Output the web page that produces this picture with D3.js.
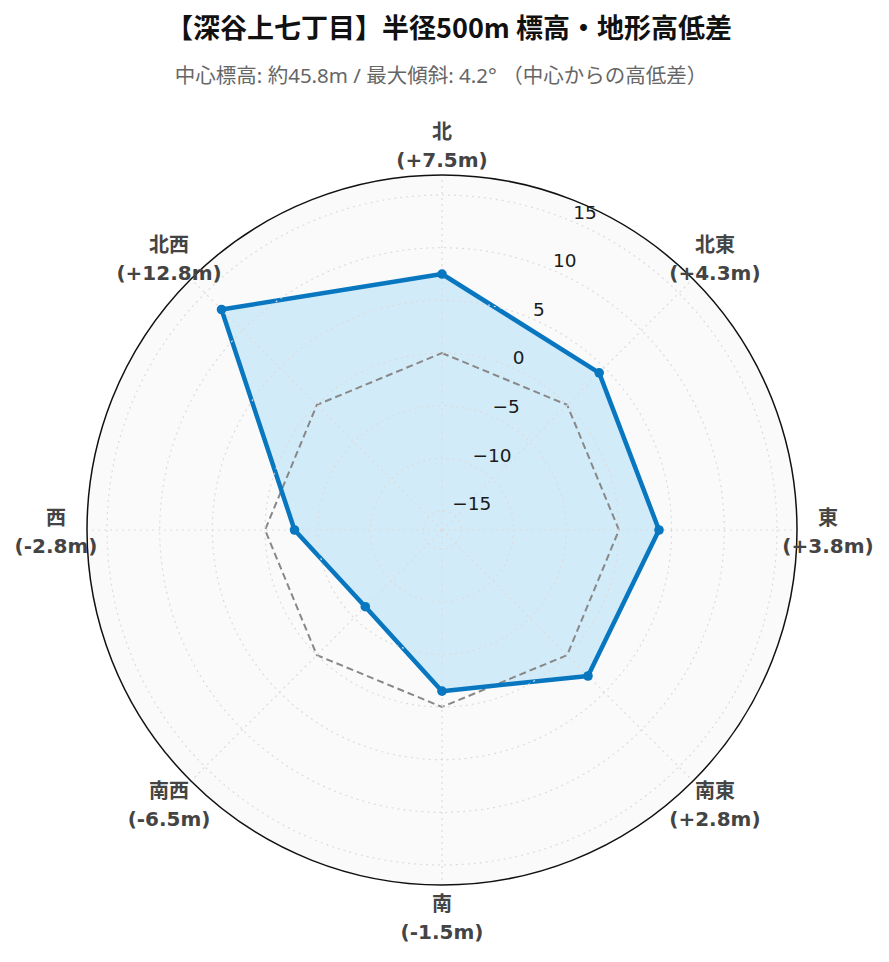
<!DOCTYPE html>
<html><head><meta charset="utf-8">
<script src="https://cdn.jsdelivr.net/npm/d3@7"></script>
<style>
body{margin:0;background:#fff;}
svg{display:block;}
</style></head>
<body>
<script>
const directions = ["北","北東","東","南東","南","南西","西","北西"];
const elevationDiff = [7.5, 4.3, 3.8, 2.8, -1.5, -6.5, -2.8, 12.8];
const baseline = [0, 0, 0, 0, 0, 0, 0, 0];
const radialTicks = [-15, -10, -5, 0, 5, 10, 15];
const radialRange = [-16.8, 16.9];
const titleText = "【深谷上七丁目】半径500m 標高・地形高低差";
const subtitleText = "中心標高: 約45.8m / 最大傾斜: 4.2° （中心からの高低差）";

const W = 889, H = 962;
const cx = 442, cy = 530, R = 355;
const svg = d3.select("body").append("svg").attr("width", W).attr("height", H);

const rScale = d3.scaleLinear().domain(radialRange).range([0, R]);
const aScale = d3.scalePoint().domain(directions).range([0, 360 - 45]);
const rad = d => d * Math.PI / 180;
const px = (a, r) => cx + r * Math.sin(rad(a));
const py = (a, r) => cy - r * Math.cos(rad(a));

// title
svg.append("text").attr("x", 449).attr("y", 38).attr("text-anchor", "middle")
  .attr("font-family", "'Noto Sans CJK JP', sans-serif").attr("font-weight", "bold")
  .attr("font-size", 27).attr("fill", "#111").text(titleText);
svg.append("text").attr("x", 441).attr("y", 83).attr("text-anchor", "middle")
  .attr("font-family", "'Noto Sans', 'Noto Sans CJK JP', sans-serif")
  .attr("font-size", 20.5).attr("fill", "#666").text(subtitleText);

// background
svg.append("circle").attr("cx", cx).attr("cy", cy).attr("r", R).attr("fill", "#fafafa");

// fill
const radial = d3.lineRadial().angle((d, i) => rad(aScale(directions[i]))).radius(d => rScale(d)).curve(d3.curveLinearClosed);
const g = svg.append("g").attr("transform", `translate(${cx},${cy})`);
g.append("path").attr("d", radial(elevationDiff)).attr("fill", "rgba(135,206,245,0.35)").attr("stroke", "none");

// grid
const gridG = svg.append("g");
radialTicks.forEach(t => {
  gridG.append("circle").attr("cx", cx).attr("cy", cy).attr("r", rScale(t))
    .attr("fill", "none").attr("stroke", "#dcdcdc").attr("stroke-width", 1.2).attr("stroke-dasharray", "2,4");
});
directions.forEach(d => {
  const a = aScale(d);
  gridG.append("line").attr("x1", cx).attr("y1", cy).attr("x2", px(a, R)).attr("y2", py(a, R))
    .attr("stroke", "#dcdcdc").attr("stroke-width", 1.2).attr("stroke-dasharray", "2,4");
});

// outer circle
svg.append("circle").attr("cx", cx).attr("cy", cy).attr("r", R).attr("fill", "none").attr("stroke", "#111").attr("stroke-width", 1.5);

// baseline dashed
g.append("path").attr("d", radial(baseline)).attr("fill", "none").attr("stroke", "#888").attr("stroke-width", 2).attr("stroke-dasharray", "7,4");

// data line
g.append("path").attr("d", radial(elevationDiff)).attr("fill", "none").attr("stroke", "#0877c0").attr("stroke-width", 4.5).attr("stroke-linejoin", "round");
directions.forEach((d, i) => {
  const a = aScale(d), r = rScale(elevationDiff[i]);
  svg.append("circle").attr("cx", px(a, r)).attr("cy", py(a, r)).attr("r", 4.8).attr("fill", "#0877c0");
});

// radial tick labels
const tickAngle = 22.5;
radialTicks.forEach(t => {
  const r = rScale(t);
  svg.append("text").attr("x", px(tickAngle, r) + 3).attr("y", py(tickAngle, r) - 2)
    .attr("font-family", "'DejaVu Sans', sans-serif").attr("font-size", 18.5).attr("fill", "#1a1a1a")
    .text(d3.format("")(t).replace("-", "−"));
});

// angular labels
const labelR = 386;
const fmt = v => "(" + (v >= 0 ? "+" : "") + v.toFixed(1) + "m)";
directions.forEach((d, i) => {
  const a = aScale(d);
  const x = px(a, labelR), y = py(a, labelR);
  const t = svg.append("text").attr("text-anchor", "middle")
    .attr("font-family", "'DejaVu Sans', 'Noto Sans CJK JP', sans-serif").attr("font-weight", "bold")
    .attr("font-size", 20).attr("fill", "#444");
  t.append("tspan").attr("x", x).attr("y", y - 5).text(d);
  t.append("tspan").attr("x", x).attr("y", y + 23).text(fmt(elevationDiff[i]));
});
</script>
</body></html>
